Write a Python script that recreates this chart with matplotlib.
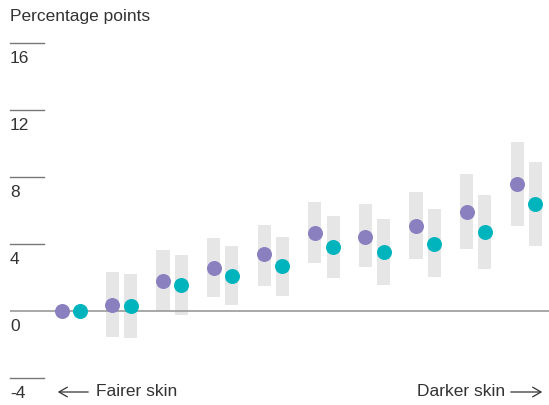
import matplotlib
matplotlib.use("Agg")
import matplotlib.pyplot as plt
from matplotlib.transforms import blended_transform_factory
import numpy as np

plt.rcParams['font.family'] = ['Liberation Sans', 'DejaVu Sans']

groups = list(range(10))
purple_vals = [0.0, 0.38, 1.8, 2.57, 3.4, 4.64, 4.44, 5.07, 5.93, 7.58]
purple_lo = [None, -1.55, 0.0, 0.84, 1.5, 2.89, 2.6, 3.08, 3.72, 5.1]
purple_hi = [None, 2.33, 3.64, 4.36, 5.13, 6.53, 6.39, 7.1, 8.16, 10.1]
teal_vals = [0.0, 0.3, 1.55, 2.1, 2.69, 3.8, 3.5, 4.0, 4.74, 6.39]
teal_lo = [None, -1.63, -0.24, 0.36, 0.9, 2.0, 1.57, 2.03, 2.53, 3.86]
teal_hi = [None, 2.2, 3.34, 3.9, 4.42, 5.67, 5.47, 6.09, 6.93, 8.88]
yticks = [-4, 0, 4, 8, 12, 16]

PURPLE = '#8a80c0'
TEAL = '#00b4be'
GRAY = '#e6e6e6'
TEXT = '#333333'

W, H = 549, 405
fig = plt.figure(figsize=(W / 100, H / 100), dpi=100)
ax_left, ax_right = 10, 549
ax_top, ax_bot = 43, 378
ax = fig.add_axes([ax_left / W, 1 - ax_bot / H, (ax_right - ax_left) / W, (ax_bot - ax_top) / H])
ax.set_xlim(-1.205, 9.447)
ax.set_ylim(-4, 16)
ax.axis('off')

off = 0.18
bw = 0.26
for g in groups:
    for vals, lo, hi, sgn, col in [(purple_vals, purple_lo, purple_hi, -1, PURPLE),
                                   (teal_vals, teal_lo, teal_hi, 1, TEAL)]:
        x = g + sgn * off
        if lo[g] is not None:
            ax.bar(x, hi[g] - lo[g], bottom=lo[g], width=bw, color=GRAY, zorder=1, linewidth=0)

ax.axhline(0, color='#9a9a9a', lw=1.2, zorder=2)

gx = np.array(groups, dtype=float)
ax.plot(gx - off, purple_vals, 'o', color=PURPLE, ms=10.8, mew=0, zorder=3)
ax.plot(gx + off, teal_vals, 'o', color=TEAL, ms=10.8, mew=0, zorder=3)

tr = blended_transform_factory(ax.transAxes, ax.transData)
for v in yticks:
    if v != 0:
        ax.plot([0, 34 / (ax_right - ax_left)], [v, v], transform=tr, color='#777777', lw=1.0, clip_on=False)
    ax.text(0, v - 0.45, str(v), transform=tr, ha='left', va='top', fontsize=12.5, color=TEXT)

fig.text(10 / W, 1 - 16 / H, 'Percentage points', ha='left', va='center', fontsize=12.5, color=TEXT)

ay = 1 - 392 / H
fig.text(96 / W, ay, 'Fairer skin', ha='left', va='center', fontsize=12.5, color=TEXT)
fig.text(505 / W, ay, 'Darker skin', ha='right', va='center', fontsize=12.5, color=TEXT)
fig.patches.append(matplotlib.patches.FancyArrowPatch((91 / W, ay), (55 / W, ay), transform=fig.transFigure,
                                                      arrowstyle='->,head_length=6,head_width=3.5', lw=0.9,
                                                      color=TEXT, mutation_scale=1))
fig.patches.append(matplotlib.patches.FancyArrowPatch((508 / W, ay), (545 / W, ay), transform=fig.transFigure,
                                                      arrowstyle='->,head_length=6,head_width=3.5', lw=0.9,
                                                      color=TEXT, mutation_scale=1))

fig.savefig('out.png', dpi=100, facecolor='white')
